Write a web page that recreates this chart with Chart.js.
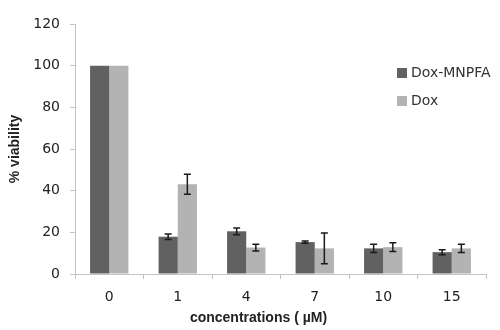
<!DOCTYPE html>
<html>
<head>
<meta charset="utf-8">
<script src="https://cdn.jsdelivr.net/npm/chart.js@4.4.1/dist/chart.umd.min.js"></script>
<style>
  html, body { margin: 0; padding: 0; background: #fff; }
  #wrap { width: 500px; height: 330px; }
</style>
</head>
<body>
<div id="wrap"><canvas id="viabilityChart"></canvas></div>
<script>
// concentrations (µM)
const concentrations = ['0', '1', '4', '7', '10', '15'];

// % viability, mean and error
const doxMnpfa = [100, 17.9, 20.5, 15.3, 12.3, 10.5];
const doxMnpfaErr = [0, 1.3, 1.6, 0.5, 2.0, 1.2];
const dox = [100, 43.1, 12.7, 12.3, 12.9, 12.3];
const doxErr = [0, 4.8, 1.6, 7.4, 2.1, 2.0];

const yTicks = [0, 20, 40, 60, 80, 100, 120];

const axisGrey = '#c4c4c4';
const tickFont = { family: 'DejaVu Sans', size: 14 };

// draws the +/- error bars on top of each bar
const errorBars = {
  id: 'errorBars',
  afterDatasetsDraw(chart) {
    const ctx = chart.ctx;
    const y = chart.scales.y;
    ctx.save();
    ctx.strokeStyle = '#1a1a1a';
    ctx.lineWidth = 1.5;
    chart.data.datasets.forEach((ds, di) => {
      const meta = chart.getDatasetMeta(di);
      meta.data.forEach((bar, i) => {
        const err = ds.errors[i];
        if (!err) return;
        const top = y.getPixelForValue(ds.data[i] + err);
        const bot = y.getPixelForValue(ds.data[i] - err);
        const cap = 3.5;
        ctx.beginPath();
        ctx.moveTo(bar.x, top); ctx.lineTo(bar.x, bot);
        ctx.moveTo(bar.x - cap, top); ctx.lineTo(bar.x + cap, top);
        ctx.moveTo(bar.x - cap, bot); ctx.lineTo(bar.x + cap, bot);
        ctx.stroke();
      });
    });
    ctx.restore();
  }
};

// legend sits inside the plot, top right
const insideLegend = {
  id: 'insideLegend',
  afterDraw(chart) {
    const ctx = chart.ctx;
    const area = chart.chartArea;
    ctx.save();
    ctx.font = '14px "DejaVu Sans"';
    ctx.textBaseline = 'middle';
    chart.data.datasets.forEach((ds, i) => {
      const x = area.right - 89;
      const cy = area.top + 49 + i * 28;
      ctx.fillStyle = ds.backgroundColor;
      ctx.fillRect(x, cy - 5, 10, 10);
      ctx.fillStyle = '#333';
      ctx.fillText(ds.label, x + 14, cy);
    });
    // x axis title, drawn a bit left of centre like the original
    ctx.font = 'bold 14px "Liberation Sans"';
    ctx.textAlign = 'center';
    ctx.fillStyle = '#222';
    ctx.fillText('concentrations ( \u00b5M)', (area.left + area.right) / 2 - 22, 318);
    ctx.restore();
  }
};

new Chart(document.getElementById('viabilityChart'), {
  type: 'bar',
  data: {
    labels: concentrations,
    datasets: [
      { label: 'Dox-MNPFA', data: doxMnpfa, errors: doxMnpfaErr, backgroundColor: '#616161' },
      { label: 'Dox', data: dox, errors: doxErr, backgroundColor: '#b3b3b3' }
    ]
  },
  options: {
    responsive: true,
    maintainAspectRatio: false,
    animation: false,
    layout: { padding: { top: 24, right: 14, left: 0, bottom: 0 } },
    datasets: { bar: { categoryPercentage: 0.56, barPercentage: 1.0 } },
    scales: {
      x: {
        grid: { display: true, drawOnChartArea: false, drawTicks: true, tickLength: 5, color: axisGrey, offset: true },
        border: { color: axisGrey },
        ticks: { color: '#222', font: tickFont, padding: 10 },
        afterFit(scale) { scale.height = 56; }
      },
      y: {
        min: 0,
        max: 120,
        afterBuildTicks(scale) { scale.ticks = yTicks.map(v => ({ value: v })); },
        grid: { display: true, drawOnChartArea: false, drawTicks: true, tickLength: 5, color: axisGrey },
        border: { color: axisGrey },
        ticks: { color: '#222', font: tickFont, padding: 10 },
        title: {
          display: true,
          text: '% viability',
          color: '#222',
          font: { family: 'Liberation Sans', size: 14, weight: 'bold' },
          padding: { top: 7, bottom: 0 }
        },
        afterFit(scale) { scale.width = 75; }
      }
    },
    plugins: {
      legend: { display: false },
      tooltip: { enabled: false }
    }
  },
  plugins: [errorBars, insideLegend]
});
</script>
</body>
</html>
